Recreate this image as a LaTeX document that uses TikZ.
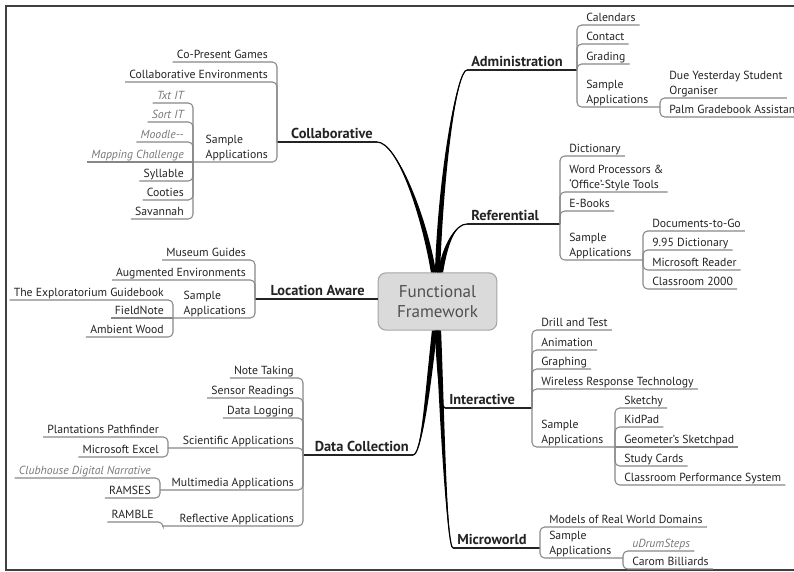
\documentclass[tikz,border=0pt]{standalone}
\usepackage{fontspec}
\setmainfont{PT Sans}
\usetikzlibrary{calc}
\definecolor{ink}{RGB}{35, 35, 35}
\definecolor{mute}{RGB}{120, 120, 120}
\definecolor{rule}{RGB}{135, 135, 135}
\definecolor{hubfill}{RGB}{218, 218, 218}
\definecolor{hubline}{RGB}{165, 165, 165}
\definecolor{hubtext}{RGB}{80, 80, 80}
\tikzset{
  leaf/.style={inner xsep=3pt, inner ysep=2.4pt, text depth=0pt, align=left,
               text=ink, font=\fontsize{8.8}{11}\selectfont},
  rleaf/.style={leaf, anchor=south west},
  lleaf/.style={leaf, anchor=south east},
  quiet/.style={text=mute, font=\fontsize{8.8}{11}\selectfont\itshape},
  topic/.style={inner xsep=3pt, inner ysep=2.6pt, text depth=0pt, text=ink,
                font=\fontsize{10.8}{13}\selectfont\bfseries},
  rtopic/.style={topic, anchor=south west},
  ltopic/.style={topic, anchor=south east},
  hub/.style={draw=hubline, fill=hubfill, rounded corners=6pt, line width=0.8pt,
              minimum width=89pt, minimum height=43pt, inner sep=0pt, align=center,
              text=hubtext, font=\fontsize{12.8}{15}\selectfont},
  link/.style={draw=rule, line width=0.8pt, rounded corners=3.5pt},
  mainlink/.style={draw=ink, line width=1pt, rounded corners=3.5pt},
  frame/.style={draw=black!75, line width=1.4pt}
}
\newcommand\limb[5]{%
  \fill[black] (#1) .. controls (#2) and ($(#3)+(#5-2.6,0)$) .. ($(#4)+(#5-2.6,0)$)
    -- ($(#4)+(#5+2.6,0)$) .. controls ($(#3)+(#5+2.6,0)$) and (#2) .. (#1) -- cycle;
  \draw[black, line width=0.9pt] (#1) .. controls (#2) and ($(#3)+(#5,0)$) .. ($(#4)+(#5,0)$);}
\begin{document}
\begin{tikzpicture}[x=0.75pt, y=-0.75pt]
\useasboundingbox (0,0) rectangle (794,572);
\draw[frame] (794,6) -- (6,6) -- (6,570) -- (794,570);

\node[hub] (fw) at (437.5,301.5) {Functional\\Framework};

% collaborative
\node[ltopic] (coll)   at (377,142) {Collaborative};
\coordinate   (collT)  at (277,142);
\node[lleaf]  (cpg)    at (272, 62) {Co-Present Games};
\node[lleaf]  (cenv)   at (272, 82) {Collaborative Environments};
\node[lleaf]  (csa)    at (272,162) {Sample\\Applications};
\coordinate   (csaT)   at (193,162);
\node[lleaf, quiet] (txt)    at (188,103) {Txt IT};
\node[lleaf, quiet] (sortit) at (188,122) {Sort IT};
\node[lleaf, quiet] (moodle) at (188,142) {Moodle-{}-};
\node[lleaf, quiet] (mapc)   at (188,162) {Mapping Challenge};
\node[lleaf]  (syl)    at (188,181) {Syllable};
\node[lleaf]  (coo)    at (188,200) {Cooties};
\node[lleaf]  (sav)    at (188,219) {Savannah};

% location aware
\node[ltopic] (loc)    at (369,299) {Location Aware};
\coordinate   (locT)   at (255,299);
\node[lleaf]  (mus)    at (250,260) {Museum Guides};
\node[lleaf]  (aug)    at (250,280) {Augmented Environments};
\node[lleaf]  (lsa)    at (250,318) {Sample\\Applications};
\coordinate   (lsaT)   at (173,318);
\node[lleaf]  (expl)   at (168,300) {The Exploratorium Guidebook};
\node[lleaf]  (fnote)  at (168,318) {FieldNote};
\node[lleaf]  (amb)    at (168,337) {Ambient Wood};

% data collection
\node[ltopic] (dc)     at (413,455) {Data Collection};
\coordinate   (dcT)    at (303,455);
\node[lleaf]  (note)   at (298,378) {Note Taking};
\node[lleaf]  (sens)   at (298,398) {Sensor Readings};
\node[lleaf]  (dlog)   at (298,418) {Data Logging};
\node[lleaf]  (sci)    at (298,448) {Scientific Applications};
\coordinate   (sciT)   at (168,448);
\node[lleaf]  (plant)  at (163,437) {Plantations Pathfinder};
\node[lleaf]  (excel)  at (163,457) {Microsoft Excel};
\node[lleaf]  (mm)     at (298,490) {Multimedia Applications};
\coordinate   (mmT)    at (160,490);
\node[lleaf, quiet] (club) at (155,478) {Clubhouse Digital Narrative};
\node[lleaf]  (ramses) at (155,498) {RAMSES};
\node[lleaf]  (refl)   at (298,526) {Reflective Applications};
\coordinate   (reflT)  at (163,526);
\node[lleaf]  (ramble) at (158,522) {RAMBLE};

% administration
\node[rtopic] (adm)    at (467, 70) {Administration};
\coordinate   (admT)   at (577, 70);
\node[rleaf]  (cal)    at (582, 25) {Calendars};
\node[rleaf]  (cont)   at (582, 44) {Contact};
\node[rleaf]  (grad)   at (582, 64) {Grading};
\node[rleaf]  (asa)    at (582,107) {Sample\\Applications};
\coordinate   (asaT)   at (660,107);
\node[rleaf]  (due)    at (665, 98) {Due Yesterday Student\\Organiser};
\node[rleaf]  (palm)   at (665,117) {Palm Gradebook Assistan};

% referential
\node[rtopic] (refr)   at (467,224) {Referential};
\coordinate   (refrT)  at (560,224);
\node[rleaf]  (dict)   at (565,156) {Dictionary};
\node[rleaf]  (word)   at (565,192) {Word Processors \&\\`Office'-Style Tools};
\node[rleaf]  (ebook)  at (565,211) {E-Books};
\node[rleaf]  (rsa)    at (565,260) {Sample\\Applications};
\coordinate   (rsaT)   at (643,260);
\node[rleaf]  (docs)   at (648,231) {Documents-to-Go};
\node[rleaf]  (dnine)  at (648,250) {9.95 Dictionary};
\node[rleaf]  (msr)    at (648,270) {Microsoft Reader};
\node[rleaf]  (cls)    at (648,289) {Classroom 2000};

% interactive
\node[rtopic] (inter)  at (445,408) {Interactive};
\coordinate   (interT) at (532,408);
\node[rleaf]  (drill)  at (537,330) {Drill and Test};
\node[rleaf]  (anim)   at (537,350) {Animation};
\node[rleaf]  (graph)  at (537,369) {Graphing};
\node[rleaf]  (wrt)    at (537,389) {Wireless Response Technology};
\node[rleaf]  (isa)    at (537,447) {Sample\\Applications};
\coordinate   (isaT)   at (615,447);
\node[rleaf]  (sketchy) at (620,408) {Sketchy};
\node[rleaf]  (kidpad) at (620,427) {KidPad};
\node[rleaf]  (geo)    at (620,447) {Geometer's Sketchpad};
\node[rleaf]  (study)  at (620,466) {Study Cards};
\node[rleaf]  (cps)    at (620,485) {Classroom Performance System};

% microworld
\node[rtopic] (mw)     at (453,548) {Microworld};
\coordinate   (mwT)    at (540,548);
\node[rleaf]  (models) at (545,527) {Models of Real World Domains};
\node[rleaf]  (msa)    at (545,558) {Sample\\Applications};
\coordinate   (msaT)   at (623,558);
\node[rleaf, quiet] (udrum) at (628,551) {uDrumSteps};
\node[rleaf]  (carom)  at (628,569) {Carom Billiards};

% thick limbs from the hub
\limb{coll.south east}{397,142}{428,215}{fw.north}{-4}
\limb{adm.south west}{457,70}{441,170}{fw.north}{0}
\limb{refr.south west}{455,224}{442,245}{fw.north}{3}
\limb{dc.south east}{421,455}{430,400}{fw.south}{-3}
\limb{inter.south west}{440,408}{439,370}{fw.south}{0}
\limb{mw.south west}{447,548}{441,420}{fw.south}{1}

% topic underlines
\draw[mainlink] (coll.south east)  -- (collT);
\draw[mainlink] (locT)             -- (loc.south -| fw.west);
\draw[mainlink] (dc.south east)    -- (dcT);
\draw[mainlink] (adm.south west)   -- (admT);
\draw[mainlink] (refr.south west)  -- (refrT);
\draw[mainlink] (inter.south west) -- (interT);
\draw[mainlink] (mw.south west)    -- (mwT);

% branches
\draw[link] (collT) |- (cpg.south west);
\draw[link] (collT) |- (cenv.south west);
\draw[link] (collT) |- (csaT);
\draw[link] (csaT)  |- (txt.south west);
\draw[link] (csaT)  |- (sortit.south west);
\draw[link] (csaT)  |- (moodle.south west);
\draw[link] (csaT)  -- (mapc.south west);
\draw[link] (csaT)  |- (syl.south west);
\draw[link] (csaT)  |- (coo.south west);
\draw[link] (csaT)  |- (sav.south west);

\draw[link] (locT)  |- (mus.south west);
\draw[link] (locT)  |- (aug.south west);
\draw[link] (locT)  |- (lsaT);
\draw[link] (lsaT)  |- (expl.south west);
\draw[link] (lsaT)  -- (fnote.south west);
\draw[link] (lsaT)  |- (amb.south west);

\draw[link] (dcT)   |- (note.south west);
\draw[link] (dcT)   |- (sens.south west);
\draw[link] (dcT)   |- (dlog.south west);
\draw[link] (dcT)   |- (sciT);
\draw[link] (dcT)   |- (mmT);
\draw[link] (dcT)   |- (reflT);
\draw[link] (sciT)  |- (plant.south west);
\draw[link] (sciT)  |- (excel.south west);
\draw[link] (mmT)   |- (club.south west);
\draw[link] (mmT)   |- (ramses.south west);
\draw[link] (reflT) |- (ramble.south west);

\draw[link] (admT)  |- (cal.south east);
\draw[link] (admT)  |- (cont.south east);
\draw[link] (admT)  |- (grad.south east);
\draw[link] (admT)  |- (asaT);
\draw[link] (asaT)  |- (due.south east);
\draw[link] (asaT)  |- (palm.south east);

\draw[link] (refrT) |- (dict.south east);
\draw[link] (refrT) |- (word.south east);
\draw[link] (refrT) |- (ebook.south east);
\draw[link] (refrT) |- (rsaT);
\draw[link] (rsaT)  |- (docs.south east);
\draw[link] (rsaT)  |- (dnine.south east);
\draw[link] (rsaT)  |- (msr.south east);
\draw[link] (rsaT)  |- (cls.south east);

\draw[link] (interT) |- (drill.south east);
\draw[link] (interT) |- (anim.south east);
\draw[link] (interT) |- (graph.south east);
\draw[link] (interT) |- (wrt.south east);
\draw[link] (interT) |- (isaT);
\draw[link] (isaT)   |- (sketchy.south east);
\draw[link] (isaT)   |- (kidpad.south east);
\draw[link] (isaT)   -- (geo.south east);
\draw[link] (isaT)   |- (study.south east);
\draw[link] (isaT)   |- (cps.south east);

\draw[link] (mwT)   |- (models.south east);
\draw[link] (mwT)   |- (msaT);
\draw[link] (msaT)  |- (udrum.south east);
\draw[link] (msaT)  |- (carom.south east);
\end{tikzpicture}
\end{document}
